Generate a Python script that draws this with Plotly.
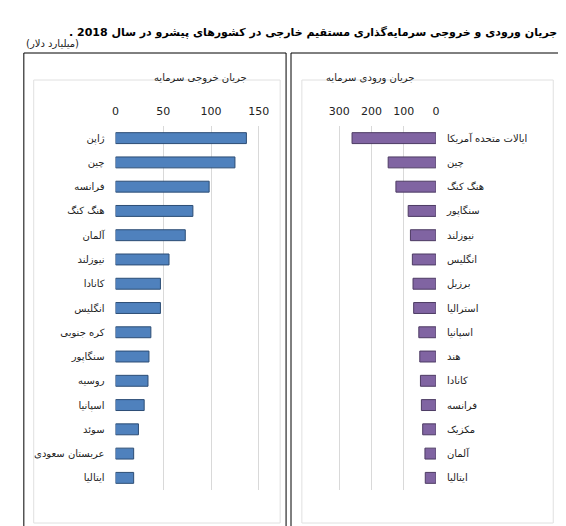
import plotly.graph_objects as go

# outflow (left chart), billion dollars
out_countries = ["ژاپن", "چین", "فرانسه", "هنگ کنگ", "آلمان", "نیوزلند", "کانادا", "انگلیس",
                 "کره جنوبی", "سنگاپور", "روسیه", "اسپانیا", "سوئد", "عربستان سعودی", "ایتالیا"]
out_values = [137, 125, 98, 81, 73, 56, 47, 47, 37, 35, 34, 30, 24, 19, 19]

# inflow (right chart)
in_countries = ["ایالات متحده آمریکا", "چین", "هنگ کنگ", "سنگاپور", "نیوزلند", "انگلیس", "برزیل",
                "استرالیا", "اسپانیا", "هند", "کانادا", "فرانسه", "مکزیک", "آلمان", "ایتالیا"]
in_values = [260, 148, 124, 86, 79, 73, 71, 69, 53, 50, 48, 45, 41, 34, 33]

fig = go.Figure()
fig.add_trace(go.Bar(x=out_values, y=out_countries, orientation="h", xaxis="x", yaxis="y",
                     marker=dict(color="#4F81BD", line=dict(color="#2c4d75", width=1)), width=0.45))
fig.add_trace(go.Bar(x=in_values, y=in_countries, orientation="h", xaxis="x2", yaxis="y2",
                     marker=dict(color="#8064A2", line=dict(color="#4d3b63", width=1)), width=0.45))

W, H = 566, 526
px = lambda v: v / W
py = lambda v: 1 - v / H
grid = "#d9d9d9"
font = dict(family="DejaVu Sans", size=11, color="#222")

fig.update_layout(
    width=W, height=H, margin=dict(l=0, r=0, t=0, b=0),
    plot_bgcolor="white", paper_bgcolor="white", showlegend=False, font=font,
    xaxis=dict(domain=[px(105), px(262)], range=[0, 162], side="top", tickvals=[0, 50, 100, 150],
               showgrid=True, gridcolor=grid, zeroline=False, anchor="y", ticks="",
               ticklabelstandoff=8),
    yaxis=dict(domain=[py(482), py(118)], autorange="reversed", showgrid=False, anchor="x",
               tickfont=dict(size=10), ticks="", ticklabelstandoff=10),
    xaxis2=dict(domain=[px(322), px(430)], range=[330, 0], side="top",
                tickvals=[0, 100, 200, 300], showgrid=True, gridcolor=grid, zeroline=False,
                anchor="y2", ticks="", ticklabelstandoff=8),
    yaxis2=dict(domain=[py(482), py(118)], autorange="reversed", side="right", showgrid=False,
                anchor="x2", tickfont=dict(size=10), ticks="", ticklabelstandoff=10),
    shapes=[
        dict(type="rect", xref="paper", yref="paper", x0=px(12), x1=px(278), y0=py(520), y1=py(45),
             line=dict(color="black", width=1)),
        dict(type="rect", xref="paper", yref="paper", x0=px(283), x1=px(557), y0=py(520), y1=py(45),
             line=dict(color="black", width=1)),
        dict(type="rect", xref="paper", yref="paper", x0=px(22), x1=px(272), y0=py(515), y1=py(72),
             line=dict(color="#e0e0e0", width=1)),
        dict(type="rect", xref="paper", yref="paper", x0=px(294), x1=px(549), y0=py(515), y1=py(72),
             line=dict(color="#e0e0e0", width=1)),
    ],
    annotations=[
        dict(text="<b>. جریان ورودی و خروجی سرمایه‌گذاری مستقیم خارجی در کشورهای پیشرو در سال 2018</b>",
             xref="paper", yref="paper", x=px(555), y=py(16), xanchor="right", showarrow=False,
             font=dict(size=11, color="black")),
        dict(text="(میلیارد دلار)", xref="paper", yref="paper", x=px(12), y=py(43), xanchor="left",
             yanchor="bottom", showarrow=False, font=dict(size=10)),
        dict(text="جریان خروجی سرمایه", xref="paper", yref="paper", x=px(142), y=py(62),
             showarrow=False, font=dict(size=10)),
        dict(text="جریان ورودی سرمایه", xref="paper", yref="paper", x=px(410), y=py(62),
             showarrow=False, font=dict(size=10)),
    ],
)

fig.write_html("out.html")
